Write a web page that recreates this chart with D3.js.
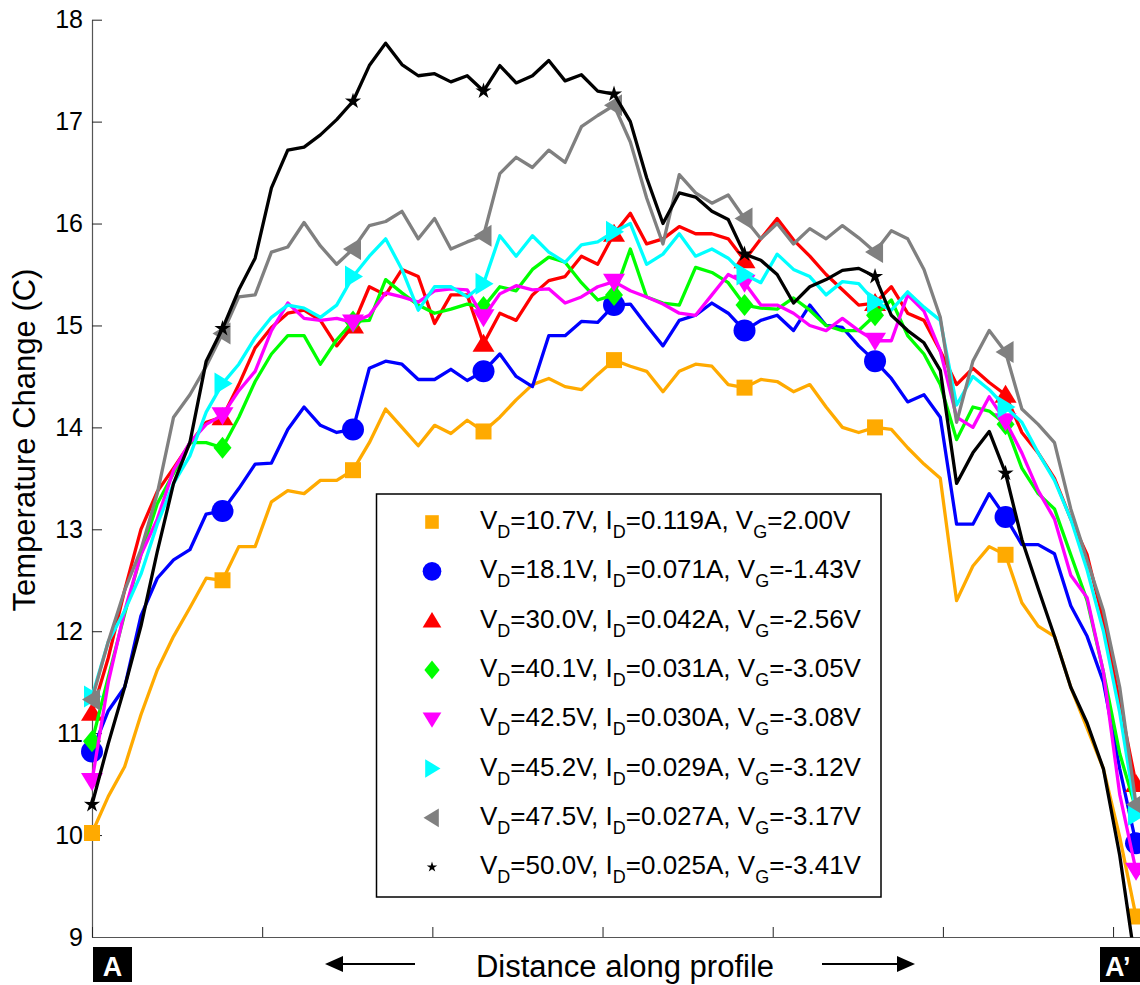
<!DOCTYPE html>
<html>
<head>
<meta charset="utf-8">
<script src="https://cdn.jsdelivr.net/npm/d3@7"></script>
<style>
  body { margin: 0; background: #fff; }
  svg { display: block; }
  text { font-family: "Liberation Sans", Arial, sans-serif; }
</style>
</head>
<body>
<svg id="chart" width="1140" height="985"></svg>
<script>
// profile sampled at 65 points, markers every 8 samples
const profileLength = 6.135;
const sampleCount = 65;
const markerEvery = 8;
const tickDistances = [0, 1, 2, 3, 4, 5, 6];
const tempTicks = [9, 10, 11, 12, 13, 14, 15, 16, 17, 18];

// legend labels
const vdValues = ["10.7", "18.1", "30.0", "40.1", "42.5", "45.2", "47.5", "50.0"];
const idValues = ["0.119", "0.071", "0.042", "0.031", "0.030", "0.029", "0.027", "0.025"];
const vgValues = ["2.00", "-1.43", "-2.56", "-3.05", "-3.08", "-3.12", "-3.17", "-3.41"];

const seriesColors = ["#FFAA00", "#0000FF", "#FF0000", "#00FF00", "#FF00FF", "#00FFFF", "#808080", "#000000"];
const seriesMarkers = ["square", "circle", "triangleUp", "diamond", "triangleDown", "triangleRight", "triangleLeft", "star"];

// temperature change (C) along the profile
const tOrange = [10.02, 10.38, 10.67, 11.18, 11.62, 11.95, 12.23, 12.52, 12.5, 12.83, 12.83, 13.27, 13.38, 13.35, 13.48, 13.48,
  13.58, 13.85, 14.18, 14.0, 13.82, 14.02, 13.94, 14.07, 13.96, 14.1, 14.27, 14.42, 14.48, 14.4, 14.37, 14.52,
  14.66, 14.6, 14.55, 14.35, 14.55, 14.62, 14.6, 14.42, 14.39, 14.47, 14.45, 14.35, 14.42, 14.2, 14.0, 13.95,
  14.0, 13.98, 13.8, 13.64, 13.5, 12.3, 12.64, 12.83, 12.75, 12.28, 12.05, 11.95, 11.45, 11.05, 10.65, 9.98, 9.2];
const tBlue = [10.82, 11.22, 11.45, 12.15, 12.52, 12.7, 12.8, 13.15, 13.18, 13.4, 13.64, 13.65, 13.98, 14.2, 14.02, 13.95,
  13.98, 14.58, 14.65, 14.62, 14.47, 14.47, 14.57, 14.46, 14.55, 14.72, 14.5, 14.4, 14.9, 14.9, 15.04, 15.03,
  15.2, 15.21, 15.0, 14.8, 15.05, 15.1, 15.22, 15.12, 14.95, 15.05, 15.1, 14.95, 15.2, 15.0, 14.98, 14.8,
  14.65, 14.48, 14.25, 14.32, 14.1, 13.05, 13.05, 13.35, 13.12, 12.85, 12.85, 12.76, 12.25, 11.95, 11.5, 10.65, 9.92];
const tRed = [11.2, 11.74, 12.4, 13.0, 13.37, 13.6, 13.84, 14.05, 14.1, 14.42, 14.78, 14.98, 15.12, 15.15, 15.05, 14.8,
  15.0, 15.38, 15.3, 15.55, 15.48, 15.02, 15.3, 15.3, 14.82, 15.12, 15.05, 15.3, 15.44, 15.48, 15.68, 15.6,
  15.9, 16.1, 15.8, 15.85, 15.97, 15.9, 15.9, 15.85, 15.64, 15.85, 16.05, 15.84, 15.68, 15.5, 15.35, 15.2,
  15.22, 15.38, 15.12, 15.05, 14.75, 14.42, 14.58, 14.44, 14.32, 13.95, 13.75, 13.5, 13.1, 12.75, 12.1, 11.3, 10.5];
const tGreen = [10.92, 11.55, 12.17, 12.75, 13.25, 13.55, 13.85, 13.85, 13.8, 14.1, 14.45, 14.72, 14.9, 14.9, 14.62, 14.86,
  15.04, 15.05, 15.45, 15.32, 15.2, 15.12, 15.16, 15.21, 15.18, 15.38, 15.34, 15.55, 15.67, 15.62, 15.42, 15.25,
  15.3, 15.75, 15.28, 15.22, 15.2, 15.57, 15.52, 15.42, 15.2, 15.17, 15.16, 15.27, 15.15, 15.0, 14.95, 14.95,
  15.1, 15.25, 14.9, 14.72, 14.42, 13.88, 14.2, 14.16, 14.03, 13.6, 13.35, 13.2, 12.75, 12.3, 11.6, 10.8, 10.25];
const tMagenta = [10.53, 11.5, 12.2, 12.75, 13.1, 13.58, 13.85, 14.03, 14.12, 14.36, 14.55, 14.95, 15.22, 15.07, 15.05, 15.07,
  15.03, 15.1, 15.32, 15.28, 15.23, 15.34, 15.36, 15.35, 15.08, 15.31, 15.39, 15.35, 15.36, 15.22, 15.28, 15.38,
  15.43, 15.34, 15.28, 15.21, 15.12, 15.1, 15.3, 15.5, 15.42, 15.2, 15.2, 15.12, 15.0, 14.95, 15.07, 14.95,
  14.85, 14.85, 15.3, 15.14, 14.75, 14.1, 14.0, 14.3, 14.06, 13.75, 13.38, 13.1, 12.55, 12.33, 11.6, 10.4, 9.65];
const tCyan = [11.36, 11.9, 12.2, 12.56, 13.05, 13.45, 13.72, 14.15, 14.43, 14.62, 14.88, 15.08, 15.2, 15.17, 15.08, 15.2,
  15.48, 15.68, 15.85, 15.55, 15.15, 15.38, 15.38, 15.28, 15.41, 15.88, 15.68, 15.88, 15.72, 15.62, 15.79, 15.82,
  15.92, 16.0, 15.6, 15.7, 15.9, 15.68, 15.75, 15.66, 15.5, 15.42, 15.7, 15.55, 15.48, 15.3, 15.43, 15.41,
  15.23, 15.15, 15.33, 15.18, 15.05, 14.22, 14.5, 14.37, 14.2, 14.05, 13.75, 13.48, 13.1, 12.6, 12.0, 11.2, 10.2];
const tGray = [11.33, 11.9, 12.4, 12.8, 13.35, 14.1, 14.32, 14.6, 14.92, 15.28, 15.3, 15.72, 15.77, 16.01, 15.78, 15.6,
  15.75, 15.98, 16.02, 16.12, 15.85, 16.05, 15.75, 15.82, 15.88, 16.49, 16.65, 16.55, 16.72, 16.6, 16.95, 17.06,
  17.16, 16.8, 16.25, 15.8, 16.48, 16.3, 16.2, 16.28, 16.05, 15.85, 16.0, 15.8, 15.95, 15.85, 15.98, 15.86,
  15.72, 15.93, 15.85, 15.55, 15.08, 14.05, 14.65, 14.95, 14.74, 14.18, 14.03, 13.85, 13.2, 12.7, 12.2, 11.45, 10.3];
const tBlack = [10.3, 10.9, 11.45, 12.05, 12.78, 13.45, 13.85, 14.65, 14.97, 15.35, 15.66, 16.35, 16.72, 16.75, 16.87, 17.02,
  17.2, 17.55, 17.77, 17.56, 17.45, 17.47, 17.39, 17.45, 17.3, 17.55, 17.38, 17.45, 17.6, 17.4, 17.46, 17.3,
  17.27, 17.0, 16.45, 16.0, 16.3, 16.26, 16.12, 16.04, 15.7, 15.64, 15.5, 15.22, 15.38, 15.45, 15.54, 15.56,
  15.48, 15.1, 14.95, 14.83, 14.56, 13.45, 13.75, 13.96, 13.55, 12.9, 12.42, 11.95, 11.45, 11.1, 10.65, 9.8, 8.7];

const seriesValues = [tOrange, tBlue, tRed, tGreen, tMagenta, tCyan, tGray, tBlack];
const samples = d3.range(sampleCount).map(i => i * profileLength / (sampleCount - 1));

const svg = d3.select("#chart");
const x = d3.scaleLinear().domain([0, 6.16]).range([92, 1140.3]);
const y = d3.scaleLinear().domain([9, 18]).range([937, 19.7]);

// marker shapes, k scales them (legend uses smaller ones)
function markerPath(type, k) {
  const s = v => (v * k).toFixed(2);
  switch (type) {
    case "square": return `M${s(-8)},${s(-8)}H${s(8)}V${s(8)}H${s(-8)}Z`;
    case "circle": return d3.symbol(d3.symbolCircle, Math.PI * Math.pow(11 * k, 2))();
    case "triangleUp": return `M0,${s(-10)}L${s(11)},${s(8)}L${s(-11)},${s(8)}Z`;
    case "triangleDown": return `M0,${s(10)}L${s(11)},${s(-8)}L${s(-11)},${s(-8)}Z`;
    case "triangleRight": return `M${s(10)},0L${s(-8)},${s(-11)}L${s(-8)},${s(11)}Z`;
    case "triangleLeft": return `M${s(-10)},0L${s(8)},${s(-11)}L${s(8)},${s(11)}Z`;
    case "diamond": return `M0,${s(-11)}L${s(9)},0L0,${s(11)}L${s(-9)},0Z`;
    case "star": {
      const pts = d3.range(10).map(j => {
        const a = -Math.PI / 2 + j * Math.PI / 5;
        const r = (j % 2 ? 3.2 : 8.5) * k;
        return [r * Math.cos(a), r * Math.sin(a)];
      });
      return "M" + pts.map(p => p[0].toFixed(2) + "," + p[1].toFixed(2)).join("L") + "Z";
    }
  }
}

svg.append("defs").append("clipPath").attr("id", "plotClip")
  .append("rect").attr("x", 0).attr("y", 0).attr("width", 1140).attr("height", y(9) + 0.5);

// axes
const yAxis = d3.axisLeft(y).tickValues(tempTicks).tickSizeInner(-10).tickSizeOuter(0).tickPadding(9);
const gy = svg.append("g").attr("transform", `translate(${x(0)},0)`).call(yAxis);
gy.selectAll("text").attr("font-size", 25).attr("fill", "#000").attr("font-family", "Liberation Sans, Arial, sans-serif");

const xAxis = d3.axisBottom(x).tickValues(tickDistances).tickSizeInner(-10).tickSizeOuter(0).tickFormat("");
const gx = svg.append("g").attr("transform", `translate(0,${y(9)})`).call(xAxis);

[gx, gy].forEach(g => {
  g.select(".domain").attr("stroke", "#555").attr("stroke-width", 1.2);
  g.selectAll(".tick line").attr("stroke", "#222").attr("stroke-width", 1);
});

// series
const line = d3.line().x((d, i) => x(samples[i])).y(d => y(d));
const plot = svg.append("g").attr("clip-path", "url(#plotClip)");

seriesValues.forEach((vals, s) => {
  const g = plot.append("g");
  g.append("path")
    .attr("d", line(vals))
    .attr("fill", "none")
    .attr("stroke", seriesColors[s])
    .attr("stroke-width", 3.3)
    .attr("stroke-linejoin", "round");
  const idx = d3.range(0, sampleCount, markerEvery);
  g.selectAll("path.mk").data(idx).join("path")
    .attr("class", "mk")
    .attr("transform", i => `translate(${x(samples[i])},${y(vals[i])})`)
    .attr("d", markerPath(seriesMarkers[s], 1))
    .attr("fill", seriesColors[s]);
});

// legend
const legend = svg.append("g");
legend.append("rect")
  .attr("x", 376.5).attr("y", 494).attr("width", 504.5).attr("height", 403)
  .attr("fill", "#fff").attr("stroke", "#000").attr("stroke-width", 1.5);

vdValues.forEach((vd, s) => {
  const cy = 522 + s * 49.3;
  legend.append("path")
    .attr("transform", `translate(432,${cy})`)
    .attr("d", markerPath(seriesMarkers[s], s === 7 ? 0.65 : 0.85))
    .attr("fill", seriesColors[s]);
  const t = legend.append("text").attr("x", 480).attr("y", cy + 7).attr("font-size", 26).attr("fill", "#000");
  const parts = [
    ["V", 0], ["D", 1], [`=${vd}V, I`, 0], ["D", 1], [`=${idValues[s]}A, V`, 0], ["G", 1], [`=${vgValues[s]}V`, 0]
  ];
  let shifted = false;
  parts.forEach(([txt, sub]) => {
    const ts = t.append("tspan").text(txt);
    if (sub) { ts.attr("font-size", 18).attr("dy", 9); shifted = true; }
    else if (shifted) { ts.attr("dy", -9); shifted = false; }
  });
});

// axis labels
svg.append("text")
  .attr("transform", "translate(35,440) rotate(-90)")
  .attr("text-anchor", "middle").attr("font-size", 31).attr("fill", "#000")
  .text("Temperature Change (C)");

svg.append("text")
  .attr("x", 625).attr("y", 977)
  .attr("text-anchor", "middle").attr("font-size", 31).attr("fill", "#000")
  .text("Distance along profile");

// direction arrows
const arrows = svg.append("g").attr("fill", "#000").attr("stroke", "#000");
arrows.append("line").attr("x1", 415).attr("x2", 335).attr("y1", 964).attr("y2", 964).attr("stroke-width", 2.2);
arrows.append("path").attr("d", "M325,964L343,956L343,972Z").attr("stroke", "none");
arrows.append("line").attr("x1", 822).attr("x2", 905).attr("y1", 964).attr("y2", 964).attr("stroke-width", 2.2);
arrows.append("path").attr("d", "M915,964L897,956L897,972Z").attr("stroke", "none");

// profile end labels
svg.append("rect").attr("x", 93).attr("y", 947).attr("width", 39).attr("height", 35).attr("fill", "#000");
svg.append("text").attr("x", 112.5).attr("y", 976).attr("text-anchor", "middle")
  .attr("font-size", 27).attr("font-weight", "bold").attr("fill", "#fff").text("A");
svg.append("rect").attr("x", 1100).attr("y", 947).attr("width", 45).attr("height", 35).attr("fill", "#000");
svg.append("text").attr("x", 1105).attr("y", 976)
  .attr("font-size", 27).attr("font-weight", "bold").attr("fill", "#fff").text("A’");
</script>
</body>
</html>
